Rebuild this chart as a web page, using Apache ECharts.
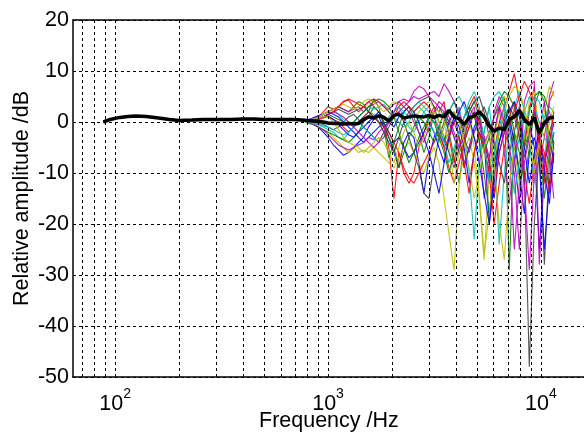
<!DOCTYPE html>
<html>
<head>
<meta charset="utf-8">
<script src="https://cdn.jsdelivr.net/npm/echarts@6/dist/echarts.min.js"></script>
<style>html,body{margin:0;padding:0;background:#fff}#c{width:584px;height:434px}</style>
</head>
<body>
<div id="c"></div>
<script>
// ---- data ----
const freqLow = [88,95,105,115,125,140,160,180,200,230,260,300,350,400,450,500,560,630,700,750];
const baseLow = [0.0,0.5,0.9,1.1,1.2,1.1,0.8,0.5,0.3,0.4,0.5,0.5,0.5,0.6,0.6,0.5,0.5,0.5,0.5,0.4];
const freqHigh = [800,850,900,950,1000,1060,1120,1180,1250,1320,1390,1470,1550,1640,1730,1830,1930,2040,2150,2270,2400,2530,2670,2820,2980,3150,3320,3510,3700,3910,4130,4360,4600,4860,5130,5410,5720,6030,6370,6730,7100,7500,7920,8360,8820,9310,9830,10380,10960,11500];

const meanHigh = [0.3,0.2,0.1,0,-0.2,-0.3,-0.3,-0.4,-0.3,-0.4,-0.3,0.5,1.0,0.8,1.2,0.9,0.2,1.3,1.5,0.8,1.0,1.2,1.1,1.0,1.3,0.9,1.3,1.0,2.3,1.0,0.6,-0.5,0.8,1.2,2.0,1.0,-0.8,-1.8,-1.2,-1.5,0.5,1.0,2.3,0.5,-0.5,0.8,-2.2,-0.2,0.8,1.0];

const curveB1 = [0.2,-0.3,-1,-2,-3,-4.5,-5.5,-6.5,-6,-5,-4,-3,-1,0.5,1,-1,-3,-6,-9,-4,-2,-3,-8,-14,-7,-3,-1,-4,0,2,-3,-9,-5,-1,1,-3,-20,-12,-4,-1,0,-7,-16,-3,0,-5,-25,-9,-2,-4];
const curveG1 = [0.3,0.5,1,1.5,2,2.5,3,2.5,2,3,4,3.5,2,4.5,3,-1,-7,-4,-1,2,3,1,-2,-6,-3,2,3,1,-2,-7,-12,-4,2,4,1,-5,-10,-3,3,5,-29,-2,-10,-4,3,5,6,4,-3,-8];
const curveR1 = [0.3,0.6,1,2,3,2.5,3,4,4.3,3,2,3,4,3,2,0,-5,-15,-6,-10,-12,-10,-5,-2,1,3,2,4,-3,-8,-2,1,3,5,2,-4,-12,-6,0,3,6,9.5,4,-5,2,7,-8,-3,4,6];
const curveC1 = [0,-0.3,-0.6,-1,-1.5,-2,-3,-3.5,-2,-1,0,1,2,1.5,0,-2,1,2,3,1,-1,-2,0,2,3,1,-1,-4,-2,1,3,-2,-10,-23,-8,-2,3,-5,-24,-10,-2,3,6,2,-4,-12,-6,1,3,2];
const curveM1 = [0.3,0.8,1.2,1.5,2,2.5,3,2.5,2,2.5,3,2,3,3.5,4,3,2.5,3.5,4,4.5,4,5,4.5,5,5.5,6,5,7.5,6,4,2,-2,1,3,-3,-15,-8,2,5,3,-5,-25,-12,4,7,8,-28,-10,5,8];
const curveY1 = [0,-0.5,-1,-1.5,-2,-3,-4,-5,-6,-5,-6,-5.5,-6,-5,-6,-7,-8,-9,-7,-5,-4,-6,-8,-10,-7,-5,-8,-15,-22,-29,-12,-6,-3,-8,-15,-27,-10,-3,2,5,3,-5,-12,-3,4,6,-2,-8,0,3];
const curveK1 = [0.2,0,-0.3,-0.5,-1,-1.5,-1,0,1,1.5,0.5,-1,-2,-3,-4,-3,-1,1,2,0,-3,-6,-9,-14,-15,-8,-3,0,2,4,1,-3,-6,-2,1,3,0,-4,-8,-12,-6,-2,3,-10,-48,-20,-5,-28,-8,-2];
const curveB2 = [0.4,0.8,1.2,1.5,2,1.5,1,0,-1,-2,-3,-4,-3,-2,-1,0,-2,-4,-3,-5,-7,-6,-4,-2,0,-2,-5,-8,-3,1,-1,-5,-12,-6,-2,-4,-8,-15,-6,-2,1,-4,-10,-18,-6,-3,-8,-25,-12,-4];
const curveG2 = [-0.2,-0.5,-1,-1.5,-2,-2.5,-3,-3.5,-4,-3,-2,0,1,3,2,0,-3,-5,-9,-6,-3,-1,1,0,-2,-4,-1,2,0,-3,-6,-4,-1,2,-4,-10,-18,-8,-2,1,3,-2,-6,-12,-5,2,-4,-15,-6,-2];
const curveR2 = [0.1,0.3,0.5,0.8,1,0.5,0,-1,-2,-1,0,1,2,1,0,-1,-2,-4,-6,-9,-11,-12,-10,-8,-6,-4,-2,-5,-9,-12,-8,-4,-1,2,0,-3,-8,-14,-6,-2,1,4,-3,-10,-16,-8,-3,-6,-14,-5];
const curveC2 = [0.2,0.5,1,1.5,2,2.5,1.5,0.5,-0.5,0,1,2,3,2.5,3,3.5,2,1,0,-1,0,2,3,2,0,-2,-4,-1,2,4,5,3,0,-3,-6,-2,3,5,6,4,-2,-8,-3,2,5,3,0,-3,-5,0];
const curveM2 = [0,-0.5,-1,-1.5,-2.5,-3.5,-4.5,-5,-5.5,-5,-4.5,-4,-3,-3.5,-2,-1,0,1,2,3,4,6,7,6.5,5,4,3,2,0,-3,-6,-8,-5,-2,0,-3,-7,-2,3,-6,-16,-8,0,-12,-29,-10,-2,4,-6,-15];
const curveY2 = [0.3,0.6,1,1.5,2,2.5,3,3.5,3,2.5,3,4,4.5,4,3,2,3,4,3.5,3,2,1,2,3,4,3,2,0,-5,-12,-6,-2,1,-5,-14,-26,-18,-8,-2,2,5,7,6,3,-2,-8,-4,2,7,5];
const curveK2 = [0.1,0.2,0.5,1,1.5,2,2.5,2,1.5,2,2.5,3,2,1,0,-2,-4,-6,-3,0,2,3,4,4.5,5,3,0,-3,-6,-9,-5,-1,2,4,5,2,-3,-8,-4,0,3,1,-3,-7,-2,2,-3,-8,-2,1];
const curveB3 = [0.3,0.5,0.8,1,1.2,0.5,-0.5,-1.5,-2.5,-3,-2,-1,0,1,2,1,0,-1,1,2,3,2,0,-3,-6,-10,-14,-8,-3,0,2,4,1,-3,-8,-14,-20,-10,-4,0,2,4,1,-5,-12,-6,-2,-10,-16,-6];
const curveG3 = [0.2,0.4,0.6,1,1.5,1,0.5,0,-0.5,0,1,2,3,4,4.5,4,3,1,-2,-5,-8,-6,-3,-1,1,0,-3,-6,-10,-6,-2,1,3,1,-2,-6,-3,1,4,6,5,3,-1,-5,-2,3,6,5,2,-1];
const curveR3 = [0,0.2,0.5,1,1.5,2,3,4,4.5,4,3.5,3,4,4.5,4,3,2,1,3,4,3,2,3,4,3,1,-2,-5,-3,0,-3,-8,-14,-6,-2,-5,-10,-20,-12,-5,-1,2,5,8,6,3,-4,-12,-4,2];
const curveC3 = [0,-0.3,-0.5,-0.8,-1,-1.5,-2,-2.5,-2,-1,0,-1,-2,-3,-4,-2,0,2,3,2,1,3,4,3,2,0,-2,-4,-8,-5,-2,1,4,6,3,-4,-12,-6,-1,3,-5,-14,-8,-2,2,5,4,0,-4,-2];
const curveM3 = [0.1,0.3,0.7,1,1.5,2,1.5,1,0,-1,-2,-3,-4,-5,-4,-2,0,2,4,3,2,0,-2,-4,-1,2,4,3,1,-2,-5,-3,0,2,-1,-4,-2,1,3,0,-5,-10,-25,-8,-3,2,-2,-8,-4,0];
const curveY3 = [0.4,0.6,0.8,1,1,0,-1.5,-3,-4,-4.5,-5,-6,-5,-4,-3,-4,-6,-8,-5,-2,0,-2,-5,-3,0,2,0,-3,-1,2,0,-4,-9,-15,-10,-5,-2,-8,-20,-27,-12,-5,0,3,-3,-10,-5,0,-3,-6];

const gridFreqs = [70,80,90,100,200,300,400,500,600,700,800,900,1000,2000,3000,4000,5000,6000,7000,8000,9000,10000];

const colors = ['#0000ff','#008000','#ff0000','#00bfbf','#bf00bf','#bfbf00','#404040'];
const curves = [curveB1,curveG1,curveR1,curveC1,curveM1,curveY1,curveK1,
                curveB2,curveG2,curveR2,curveC2,curveM2,curveY2,curveK2,
                curveB3,curveG3,curveR3,curveC3,curveM3,curveY3];

const freqAll = freqLow.concat(freqHigh);
function toPairs(high){ const v = baseLow.concat(high); return freqAll.map((f,i)=>[f,v[i]]); }

const FONT = 'Liberation Sans, Arial, sans-serif';
const FS = 21.5;
const XMIN = 63.4, XMAX = 20000;
const series = [];
series.push({
  type:'line', data:[], z:1, silent:true,
  markLine:{ silent:true, symbol:'none', animation:false,
    label:{show:false},
    lineStyle:{color:'#000', type:[3,3], width:1},
    data: gridFreqs.map(f=>({xAxis:f})) }
});
curves.forEach((c,i)=>{
  series.push({type:'line', data:toPairs(c), showSymbol:false, z:2, silent:true,
    lineStyle:{width:1.1, color:colors[i%7], opacity:0.9}, itemStyle:{color:colors[i%7]}});
});
series.push({type:'line', data:toPairs(meanHigh), showSymbol:false, z:5, silent:true,
  lineStyle:{width:3.5, color:'#000'}, itemStyle:{color:'#000'}});

const chart = echarts.init(document.getElementById('c'));
chart.setOption({
  animation:false,
  backgroundColor:'#fff',
  grid:{left:73, top:20, width:532, height:357, show:false, containLabel:false, outerBoundsMode:'none'},
  xAxis:[{
    type:'log', logBase:10, min:XMIN, max:XMAX,
    axisLine:{show:true, onZero:false, lineStyle:{color:'#000', width:1.5}},
    axisTick:{show:false},
    splitLine:{show:false},
    axisLabel:{
      margin:10, color:'#000', showMinLabel:false, showMaxLabel:false,
      formatter:function(v){ const p=Math.log10(v); if(Math.abs(p-Math.round(p))<1e-6){return '{b|10}{s|'+Math.round(p)+'}';} return ''; },
      rich:{ b:{fontSize:FS, fontFamily:FONT, color:'#000', lineHeight:28, verticalAlign:'bottom'},
             s:{fontSize:14, fontFamily:FONT, color:'#000', lineHeight:14, verticalAlign:'top'} }
    }
  },{
    type:'log', logBase:10, min:XMIN, max:XMAX, position:'top',
    axisLine:{show:true, onZero:false, lineStyle:{color:'#000', width:1.5}},
    axisTick:{show:false}, axisLabel:{show:false}, splitLine:{show:false}
  }],
  yAxis:{
    type:'value', min:-50, max:20, interval:10,
    name:'Relative amplitude /dB', nameLocation:'middle', nameGap:40, nameMoveOverlap:false,
    nameTextStyle:{fontSize:FS, fontFamily:FONT, color:'#000'},
    axisLine:{show:true, lineStyle:{color:'#000', width:1.5}},
    axisTick:{show:false},
    axisLabel:{fontSize:FS, fontFamily:FONT, color:'#000', margin:4},
    splitLine:{show:true, lineStyle:{color:'#000', type:[3,3], width:1}}
  },
  graphic:[{type:'text', left:259, top:410, style:{text:'Frequency /Hz', font:FS+'px '+FONT, fill:'#000'}}],
  series:series
});
</script>
</body>
</html>
